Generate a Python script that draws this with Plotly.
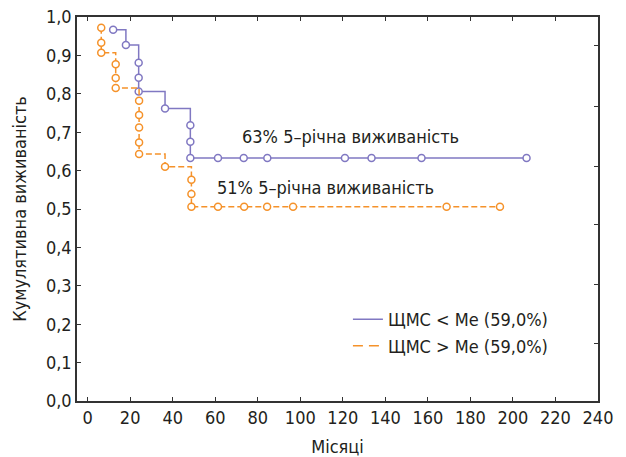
import plotly.graph_objects as go

# Data (months, cumulative survival)
low_x = [12, 18, 24, 24, 24, 36.4, 48.3, 48.3, 48.3, 61.3, 73.4, 84.5, 121, 133.5, 157, 206.4]
low_y = [0.967, 0.927, 0.881, 0.842, 0.806, 0.762, 0.718, 0.675, 0.633, 0.633, 0.633, 0.633, 0.633, 0.633, 0.633, 0.633]

high_x = [6.4, 6.4, 6.4, 13.2, 13.2, 13.2, 24.2, 24.2, 24.2, 24.2, 24.2, 36.4, 48.8, 48.8, 48.8,
          61.3, 73.6, 84.4, 96.6, 168.8, 193.9]
high_y = [0.972, 0.933, 0.907, 0.877, 0.841, 0.815, 0.782, 0.745, 0.712, 0.673, 0.643, 0.610,
          0.576, 0.539, 0.506, 0.506, 0.506, 0.506, 0.506, 0.506, 0.506]

names = ["ЩМС < Me (59,0%)", "ЩМС > Me (59,0%)"]
notes = ["63% 5–річна виживаність", "51% 5–річна виживаність"]
x_ticks = list(range(0, 241, 20))
y_ticks = [i / 10 for i in range(11)]
right_ticks = [0.151, 0.304, 0.46, 0.61, 0.766, 0.925]

BLUE = "#8078c2"
ORANGE = "#f5922a"
FONT = "DejaVu Sans Condensed, Liberation Sans Narrow, sans-serif"

fig = go.Figure()
fig.add_trace(go.Scatter(x=low_x, y=low_y, mode="lines+markers", line_shape="hv",
                         line=dict(color=BLUE, width=1.5),
                         marker=dict(symbol="circle", size=7, color="white",
                                     line=dict(color=BLUE, width=1.5)),
                         showlegend=False))
fig.add_trace(go.Scatter(x=high_x, y=high_y, mode="lines+markers", line_shape="hv",
                         line=dict(color=ORANGE, width=1.5, dash="6px,3px"),
                         marker=dict(symbol="circle", size=7, color="white",
                                     line=dict(color=ORANGE, width=1.5)),
                         showlegend=False))
# legend entries
fig.add_trace(go.Scatter(x=[None], y=[None], mode="lines", name=names[0],
                         line=dict(color=BLUE, width=1.5)))
fig.add_trace(go.Scatter(x=[None], y=[None], mode="lines", name=names[1],
                         line=dict(color=ORANGE, width=1.5, dash="10px,6px")))
# right axis ticks carrier
fig.add_trace(go.Scatter(x=[None], y=[None], yaxis="y2", showlegend=False))

fig.add_annotation(x=71.5, y=0.69, text=notes[0], showarrow=False, xanchor="left",
                   font=dict(size=18, color="#231f20", family=FONT))
fig.add_annotation(x=60, y=0.557, text=notes[1], showarrow=False, xanchor="left",
                   font=dict(size=18, color="#231f20", family=FONT))

fig.update_layout(
    width=626, height=457,
    margin=dict(l=77, r=28, t=17, b=56),
    plot_bgcolor="white", paper_bgcolor="white",
    separators=", ",
    font=dict(family=FONT, size=18, color="#231f20"),
    xaxis=dict(range=[-5, 240], tickvals=x_ticks, ticks="inside", ticklen=4,
               tickcolor="#333", showline=True, linecolor="#333", linewidth=1.5,
               mirror="ticks", showgrid=False, zeroline=False, automargin=False,
               title=dict(text="Місяці", font=dict(size=18))),
    yaxis=dict(range=[0, 1], tickvals=y_ticks, tickformat=".1f", ticks="inside",
               ticklen=4, tickcolor="#333", showline=True, linecolor="#333",
               linewidth=1.5, mirror=True, showgrid=False, zeroline=False, automargin=False,
               title=dict(text="Кумулятивна виживаність", font=dict(size=18))),
    yaxis2=dict(range=[0, 1], overlaying="y", side="right", tickvals=right_ticks,
                showticklabels=False, ticks="inside", ticklen=4, tickcolor="#333",
                showline=False, showgrid=False, zeroline=False, automargin=False),
    legend=dict(x=0.52, y=0.26, xanchor="left", yanchor="top", bgcolor="rgba(0,0,0,0)",
                font=dict(size=18), tracegroupgap=0),
)

fig.write_html("out.html", config={"displayModeBar": False},
               post_script="document.body.style.margin='0';")
